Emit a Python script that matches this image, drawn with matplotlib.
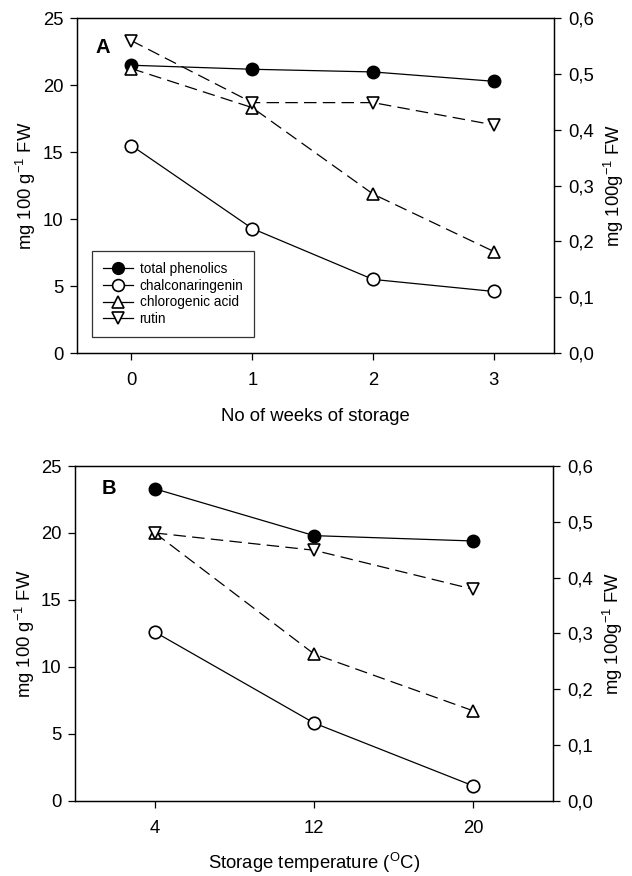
import matplotlib
matplotlib.use("Agg")
import matplotlib.pyplot as plt
from matplotlib.lines import Line2D
from matplotlib.ticker import FuncFormatter

plt.rcParams['font.family'] = ['Liberation Sans', 'DejaVu Sans']
plt.rcParams['mathtext.default'] = 'regular'

# Panel A: weeks of storage
weeks = [0, 1, 2, 3]
a_total = [21.5, 21.2, 21.0, 20.3]
a_chalcon = [15.5, 9.3, 5.5, 4.6]
a_chlorog = [0.51, 0.44, 0.285, 0.182]
a_rutin = [0.56, 0.449, 0.449, 0.409]

# Panel B: storage temperature
temps = [4, 12, 20]
b_total = [23.3, 19.8, 19.4]
b_chalcon = [12.6, 5.8, 1.1]
b_chlorog = [0.48, 0.263, 0.161]
b_rutin = [0.48, 0.449, 0.379]

labels = ['total phenolics', 'chalconaringenin', 'chlorogenic acid', 'rutin']

fig = plt.figure(figsize=(6.32, 8.76), dpi=100)

comma = FuncFormatter(lambda v, p: f"{v:.1f}".replace('.', ','))
FS = 13.3

def panel(rect, x, tot, chal, chl, rut, xlim, xticks, xlabel, xlabelpad, letter, letter_pos):
    ax = fig.add_axes(rect)
    ax2 = ax.twinx()
    ms = 9
    lw = 0.9
    ax.plot(x, tot, '-', color='black', lw=lw, marker='o', ms=ms, mfc='black', mec='black', zorder=3)
    ax.plot(x, chal, '-', color='black', lw=lw, marker='o', ms=ms, mfc='white', mec='black', mew=1.2, zorder=3)
    ax2.plot(x, chl, color='black', lw=lw, ls=(0, (10, 5)), marker='^', ms=ms, mfc='white', mec='black', mew=1.2, zorder=3)
    ax2.plot(x, rut, color='black', lw=lw, ls=(0, (10, 5)), marker='v', ms=ms, mfc='white', mec='black', mew=1.2, zorder=3)
    ax.set_xlim(*xlim)
    ax.set_ylim(0, 25)
    ax2.set_ylim(0, 0.6)
    ax.set_xticks(xticks)
    ax.set_yticks([0, 5, 10, 15, 20, 25])
    ax2.set_yticks([0, 0.1, 0.2, 0.3, 0.4, 0.5, 0.6])
    ax2.yaxis.set_major_formatter(comma)
    for a in (ax, ax2):
        a.tick_params(direction='out', length=5, width=0.9, labelsize=FS, pad=5)
        for s in a.spines.values():
            s.set_linewidth(0.9)
    ax.tick_params(axis='x', pad=9)
    ax.set_xlabel(xlabel, fontsize=FS, labelpad=xlabelpad)
    ax.set_ylabel('mg 100 g$^{-1}$ FW', fontsize=FS, labelpad=3)
    ax2.set_ylabel('mg 100g$^{-1}$ FW', fontsize=FS, labelpad=6)
    ax.text(letter_pos[0], letter_pos[1], letter, fontsize=14.5, fontweight='bold', ha='center', va='center')
    return ax, ax2

axA, axA2 = panel([0.122, 0.597, 0.755, 0.382], weeks, a_total, a_chalcon, a_chlorog, a_rutin,
                  (-0.45, 3.5), weeks, 'No of weeks of storage', 13, 'A', (-0.24, 22.8))
axB, axB2 = panel([0.119, 0.086, 0.756, 0.382], temps, b_total, b_chalcon, b_chlorog, b_rutin,
                  (0, 24), temps, 'Storage temperature ($^{O}$C)', 10, 'B', (1.7, 23.3))

handles = [
    Line2D([], [], color='black', lw=0.9, marker='o', ms=8.5, mfc='black', mec='black'),
    Line2D([], [], color='black', lw=0.9, marker='o', ms=8.5, mfc='white', mec='black', mew=1.2),
    Line2D([], [], color='black', lw=0.9, marker='^', ms=8.5, mfc='white', mec='black', mew=1.2),
    Line2D([], [], color='black', lw=0.9, marker='v', ms=8.5, mfc='white', mec='black', mew=1.2),
]
leg = axA.legend(handles, labels, loc='lower left', bbox_to_anchor=(0.031, 0.048), fontsize=9.8,
                 frameon=True, fancybox=False, edgecolor='black', handlelength=2.2,
                 handletextpad=0.5, borderpad=0.8, labelspacing=0.2, borderaxespad=0)
leg.get_frame().set_linewidth(0.9)
leg.set_zorder(5)

fig.savefig('out.png', dpi=100)
